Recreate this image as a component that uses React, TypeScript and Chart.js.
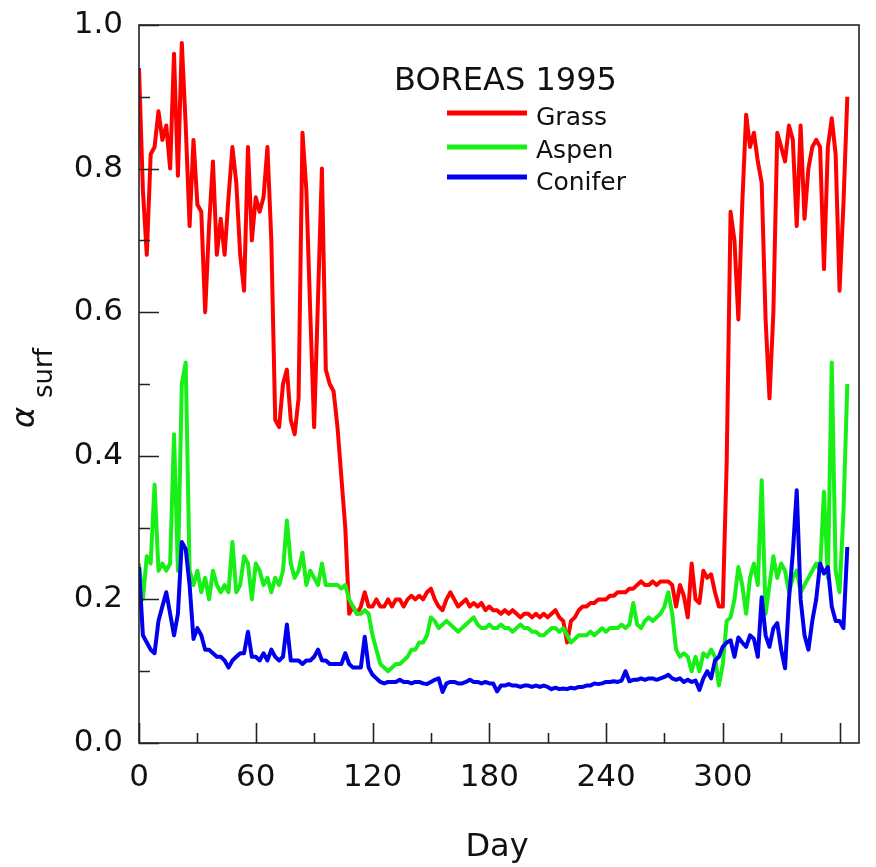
import React, { useEffect, useRef } from "react";
import { Chart, registerables } from "chart.js";

Chart.register(...registerables);

// Day of year (every second day)
const days: number[] = Array.from({ length: 183 }, (_, i) => i * 2);

// Surface albedo, Grass site
const grass: number[] = [
  0.94, 0.77, 0.68, 0.82, 0.83, 0.88, 0.84, 0.86, 0.80, 0.96,
  0.79, 0.975, 0.86, 0.72, 0.84, 0.75, 0.74, 0.60, 0.72, 0.81,
  0.68, 0.73, 0.68, 0.76, 0.83, 0.78, 0.68, 0.63, 0.83, 0.70,
  0.76, 0.74, 0.76, 0.83, 0.70, 0.45, 0.44, 0.50, 0.52, 0.45,
  0.43, 0.48, 0.85, 0.77, 0.60, 0.44, 0.62, 0.80, 0.52, 0.50,
  0.49, 0.44, 0.37, 0.30, 0.18, 0.19, 0.18, 0.19, 0.21, 0.19,
  0.19, 0.20, 0.19, 0.19, 0.20, 0.19, 0.20, 0.20, 0.19, 0.20,
  0.205, 0.20, 0.205, 0.20, 0.21, 0.215, 0.20, 0.19, 0.185, 0.20,
  0.21, 0.20, 0.19, 0.195, 0.20, 0.19, 0.195, 0.19, 0.195, 0.185,
  0.19, 0.185, 0.185, 0.18, 0.185, 0.18, 0.185, 0.18, 0.175, 0.18,
  0.18, 0.175, 0.18, 0.175, 0.18, 0.175, 0.18, 0.185, 0.175, 0.17,
  0.14, 0.17, 0.175, 0.185, 0.19, 0.19, 0.195, 0.195, 0.20, 0.20,
  0.20, 0.205, 0.205, 0.21, 0.21, 0.21, 0.215, 0.215, 0.22, 0.225,
  0.22, 0.22, 0.225, 0.22, 0.225, 0.225, 0.225, 0.22, 0.19, 0.22,
  0.205, 0.175, 0.25, 0.20, 0.195, 0.24, 0.23, 0.235, 0.21, 0.19,
  0.19, 0.39, 0.74, 0.70, 0.59, 0.75, 0.875, 0.83, 0.85, 0.81,
  0.78, 0.59, 0.48, 0.60, 0.85, 0.83, 0.81, 0.86, 0.84, 0.72,
  0.86, 0.73, 0.80, 0.83, 0.84, 0.83, 0.66, 0.83, 0.87, 0.82,
  0.63, 0.75, 0.90,
];

// Surface albedo, Aspen site
const aspen: number[] = [
  0.25, 0.20, 0.26, 0.25, 0.36, 0.24, 0.25, 0.24, 0.25, 0.43,
  0.24, 0.50, 0.53, 0.24, 0.22, 0.24, 0.21, 0.23, 0.20, 0.24,
  0.22, 0.21, 0.22, 0.21, 0.28, 0.21, 0.22, 0.26, 0.25, 0.20,
  0.25, 0.24, 0.22, 0.23, 0.21, 0.23, 0.22, 0.24, 0.31, 0.25,
  0.23, 0.24, 0.265, 0.22, 0.24, 0.23, 0.22, 0.25, 0.22, 0.22,
  0.22, 0.22, 0.215, 0.22, 0.20, 0.19, 0.18, 0.18, 0.185, 0.18,
  0.15, 0.13, 0.11, 0.105, 0.10, 0.105, 0.11, 0.11, 0.115, 0.12,
  0.13, 0.13, 0.14, 0.14, 0.15, 0.175, 0.17, 0.16, 0.165, 0.17,
  0.165, 0.16, 0.155, 0.16, 0.165, 0.17, 0.175, 0.165, 0.16, 0.16,
  0.165, 0.16, 0.16, 0.165, 0.16, 0.16, 0.155, 0.16, 0.165, 0.16,
  0.16, 0.155, 0.155, 0.15, 0.15, 0.155, 0.16, 0.16, 0.155, 0.16,
  0.15, 0.14, 0.145, 0.15, 0.15, 0.15, 0.155, 0.15, 0.155, 0.16,
  0.155, 0.16, 0.16, 0.16, 0.165, 0.16, 0.165, 0.195, 0.165, 0.16,
  0.17, 0.175, 0.17, 0.175, 0.18, 0.19, 0.21, 0.18, 0.13, 0.12,
  0.125, 0.12, 0.10, 0.12, 0.10, 0.125, 0.12, 0.13, 0.12, 0.08,
  0.11, 0.17, 0.175, 0.20, 0.245, 0.22, 0.18, 0.23, 0.25, 0.22,
  0.366, 0.18, 0.22, 0.26, 0.23, 0.25, 0.24, 0.21, 0.23, 0.24,
  0.21, 0.22, 0.23, 0.24, 0.25, 0.24, 0.35, 0.23, 0.53, 0.24,
  0.21, 0.32, 0.50,
];

// Surface albedo, Conifer site
const conifer: number[] = [
  0.245, 0.15, 0.14, 0.13, 0.125, 0.17, 0.19, 0.21, 0.18, 0.15,
  0.18, 0.28, 0.27, 0.22, 0.145, 0.16, 0.15, 0.13, 0.13, 0.125,
  0.12, 0.12, 0.115, 0.105, 0.115, 0.12, 0.125, 0.125, 0.155, 0.12,
  0.12, 0.115, 0.125, 0.115, 0.13, 0.12, 0.115, 0.12, 0.165, 0.115,
  0.115, 0.115, 0.11, 0.115, 0.115, 0.12, 0.13, 0.115, 0.115, 0.11,
  0.11, 0.11, 0.11, 0.125, 0.11, 0.105, 0.105, 0.105, 0.148, 0.105,
  0.095, 0.09, 0.085, 0.083, 0.085, 0.085, 0.085, 0.088, 0.085, 0.085,
  0.083, 0.085, 0.085, 0.083, 0.082, 0.085, 0.088, 0.09, 0.071, 0.083,
  0.085, 0.085, 0.083, 0.083, 0.085, 0.088, 0.085, 0.085, 0.083, 0.085,
  0.083, 0.083, 0.072, 0.08, 0.08, 0.082, 0.08, 0.08, 0.078, 0.08,
  0.08, 0.078, 0.08, 0.078, 0.08, 0.078, 0.075, 0.077, 0.075, 0.076,
  0.075, 0.077, 0.076, 0.078, 0.078, 0.08, 0.08, 0.083, 0.082, 0.083,
  0.085, 0.085, 0.086, 0.085, 0.087, 0.10, 0.086, 0.088, 0.088, 0.09,
  0.088, 0.09, 0.09, 0.088, 0.09, 0.092, 0.095, 0.09, 0.088, 0.09,
  0.085, 0.088, 0.085, 0.087, 0.074, 0.09, 0.10, 0.09, 0.115, 0.12,
  0.134, 0.14, 0.143, 0.12, 0.147, 0.14, 0.134, 0.15, 0.145, 0.12,
  0.203, 0.15, 0.134, 0.16, 0.167, 0.13, 0.104, 0.20, 0.265, 0.352,
  0.20, 0.15, 0.13, 0.17, 0.20, 0.25, 0.236, 0.245, 0.19, 0.17,
  0.17, 0.16, 0.273,
];

const seriesNames = ["Grass", "Aspen", "Conifer"];
const seriesColors = ["#ff0000", "#17ef17", "#0000ee"];

const xMajorTicks = [0, 60, 120, 180, 240, 300, 360];
const xMinorTicks = [30, 90, 150, 210, 270, 330];
const yMajorTicks = [0, 0.2, 0.4, 0.6, 0.8, 1.0];
const yMinorTicks = [0.1, 0.3, 0.5, 0.7, 0.9];

const chartTitle = "BOREAS 1995";
const xAxisTitle = "Day";
const yAxisSymbol = "α";
const yAxisSubscript = "surf";

const FONT = "'DejaVu Sans', 'Liberation Sans', Arial, sans-serif";

const decorPlugin = {
  id: "decor",
  afterDatasetsDraw(chart: any) {
    const { ctx, chartArea: a, scales } = chart;
    const x = scales.x;
    const y = scales.y;
    ctx.save();
    // frame
    ctx.strokeStyle = "#222";
    ctx.lineWidth = 1.6;
    ctx.strokeRect(a.left, a.top, a.right - a.left, a.bottom - a.top);
    // inward ticks
    ctx.beginPath();
    for (const v of xMajorTicks) {
      const px = Math.round(x.getPixelForValue(v)) + 0.5;
      ctx.moveTo(px, a.bottom);
      ctx.lineTo(px, a.bottom - 20);
    }
    for (const v of xMinorTicks) {
      const px = Math.round(x.getPixelForValue(v)) + 0.5;
      ctx.moveTo(px, a.bottom);
      ctx.lineTo(px, a.bottom - 10);
    }
    for (const v of yMajorTicks) {
      const py = Math.round(y.getPixelForValue(v)) + 0.5;
      ctx.moveTo(a.left, py);
      ctx.lineTo(a.left + 20, py);
    }
    for (const v of yMinorTicks) {
      const py = Math.round(y.getPixelForValue(v)) + 0.5;
      ctx.moveTo(a.left, py);
      ctx.lineTo(a.left + 11, py);
    }
    ctx.stroke();

    ctx.fillStyle = "#111";
    // x axis title
    ctx.font = `32px ${FONT}`;
    ctx.textAlign = "center";
    ctx.textBaseline = "alphabetic";
    ctx.fillText(xAxisTitle, (a.left + a.right) / 2 - 2, 856);

    // y axis title (rotated, with subscript)
    ctx.save();
    ctx.rotate(-Math.PI / 2);
    ctx.textAlign = "left";
    ctx.font = `italic 32px ${FONT}`;
    ctx.fillText(yAxisSymbol, -428, 34);
    ctx.font = `26px ${FONT}`;
    ctx.fillText(yAxisSubscript, -398, 52);
    ctx.restore();

    // inset title
    ctx.font = `32px ${FONT}`;
    ctx.textAlign = "left";
    ctx.fillText(chartTitle, 394, 90);

    // legend
    const ly = [113, 147, 177];
    const lb = [125, 158, 190];
    chart.data.datasets.forEach((ds: any, i: number) => {
      ctx.strokeStyle = ds.borderColor;
      ctx.lineWidth = 5;
      ctx.beginPath();
      ctx.moveTo(447, ly[i]);
      ctx.lineTo(527, ly[i]);
      ctx.stroke();
      ctx.fillStyle = "#111";
      ctx.font = `25px ${FONT}`;
      ctx.fillText(ds.label, 536, lb[i]);
    });
    ctx.restore();
  },
};

export default function App() {
  const canvasRef = useRef<HTMLCanvasElement | null>(null);

  useEffect(() => {
    const canvas = canvasRef.current;
    if (!canvas) return;
    const seriesValues = [grass, aspen, conifer];
    const chart = new Chart(canvas, {
      type: "line",
      data: {
        datasets: seriesValues.map((vals, i) => ({
          label: seriesNames[i],
          data: vals.map((v, j) => ({ x: days[j], y: v })),
          borderColor: seriesColors[i],
          backgroundColor: seriesColors[i],
          borderWidth: 4,
          pointRadius: 0,
          tension: 0,
          fill: false,
          borderJoinStyle: "round" as const,
          order: 3 - i,
        })),
      },
      options: {
        responsive: false,
        animation: false,
        layout: { padding: { top: 25, right: 17, left: 0, bottom: 0 } },
        plugins: {
          legend: { display: false },
          tooltip: { enabled: false },
          title: { display: false },
        },
        scales: {
          x: {
            type: "linear",
            min: 0,
            max: 370,
            grid: { display: false, drawTicks: false },
            border: { display: false },
            afterFit: (scale: any) => {
              scale.height = 124;
              scale.paddingLeft = 0;
              scale.paddingRight = 0;
            },
            ticks: {
              stepSize: 30,
              autoSkip: false,
              maxRotation: 0,
              padding: 16,
              color: "#111",
              font: { family: FONT, size: 31 },
              callback: (v: any) => (xMajorTicks.includes(Number(v)) ? String(v) : ""),
            },
          },
          y: {
            type: "linear",
            min: 0,
            max: 1,
            grid: { display: false, drawTicks: false },
            border: { display: false },
            afterFit: (scale: any) => {
              scale.width = 139;
              scale.paddingTop = 0;
              scale.paddingBottom = 0;
            },
            ticks: {
              stepSize: 0.1,
              autoSkip: false,
              padding: 16,
              color: "#111",
              font: { family: FONT, size: 31 },
              callback: (v: any) => {
                const n = Math.round(Number(v) * 10);
                return n % 2 === 0 ? (n / 10).toFixed(1) : "";
              },
            },
          },
        },
      },
      plugins: [decorPlugin],
    });
    return () => chart.destroy();
  }, []);

  return (
    <div style={{ position: "fixed", left: 0, top: 0, width: 876, height: 867, background: "#fff" }}>
      <canvas ref={canvasRef} width={876} height={867} style={{ display: "block" }} />
    </div>
  );
}
